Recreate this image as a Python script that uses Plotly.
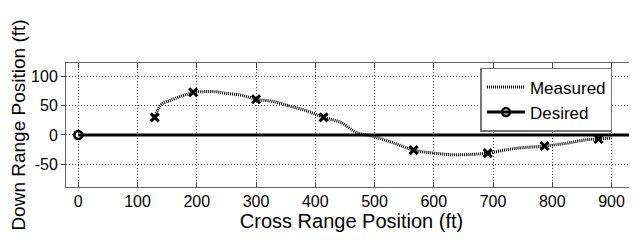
import plotly.graph_objects as go

# ---- data ----
curve_x = [129, 134, 140, 155, 170, 185, 194, 210, 230, 250, 275, 300, 330, 358, 386, 414, 442, 470, 499, 533, 566, 600, 634, 668, 691, 724, 747, 787, 825, 859, 878, 900]
curve_y = [30, 42, 52, 59, 65, 70, 73, 74, 74, 71, 68, 61, 57, 49, 41, 30, 22, 4, -3, -14, -26, -31, -34, -33, -31, -25, -22, -19, -14, -8, -7, -5]
sample_x = [129, 194, 300, 414, 566, 691, 787, 878]
sample_y = [30, 73, 61, 30, -26, -31, -19, -7]
desired_x = [0, 1000]
desired_y = [0, 0]
x_ticks = [0, 100, 200, 300, 400, 500, 600, 700, 800, 900]
y_ticks = [-50, 0, 50, 100]

FONT = "Liberation Sans, Arial, Helvetica, sans-serif"

fig = go.Figure()
fig.add_trace(go.Scatter(
    x=curve_x, y=curve_y, mode="lines", name="Measured",
    line=dict(color="black", width=3, dash="1px,1px", shape="spline"),
))
fig.add_trace(go.Scatter(
    x=sample_x, y=sample_y, mode="markers", showlegend=False,
    marker=dict(symbol="x-thin", size=8, line=dict(color="black", width=3), color="black"),
))
fig.add_trace(go.Scatter(
    x=desired_x, y=desired_y, mode="lines+markers", name="Desired",
    line=dict(color="black", width=3),
    marker=dict(symbol="circle-open", size=8, color="black", line=dict(color="black", width=2.5)),
))

# page body has an 8px margin, so the figure is sized/offset to compensate
fig.update_layout(
    width=629, height=232,
    margin=dict(l=57.7, r=0, t=55.3, b=53.3, autoexpand=False),
    paper_bgcolor="white", plot_bgcolor="white",
    font=dict(family=FONT, size=16, color="black"),
    showlegend=True,
    legend=dict(
        x=0.957, y=0.96, xanchor="right", yanchor="top",
        bgcolor="white", bordercolor="#777", borderwidth=1.5,
        font=dict(family=FONT, size=17, color="black"),
        tracegroupgap=0, itemwidth=38,
    ),
)

fig.update_xaxes(
    range=[-20.7, 943], tickvals=x_ticks, ticktext=[str(v) for v in x_ticks],
    showgrid=True, gridcolor="#444", griddash="1px,2px", gridwidth=1,
    zeroline=False, showline=True, linecolor="#666", linewidth=1, mirror="allticks",
    ticks="inside", ticklen=5, tickcolor="#444", automargin=False,
    tickfont=dict(family=FONT, size=16, color="black"),
    title=dict(text="Cross Range Position (ft)", font=dict(family=FONT, size=20, color="black"), standoff=2),
)
fig.update_yaxes(
    range=[-89, 123], tickvals=y_ticks, ticktext=[str(v) for v in y_ticks],
    showgrid=True, gridcolor="#444", griddash="1px,2px", gridwidth=1,
    zeroline=False, showline=True, linecolor="#666", linewidth=1, mirror=False,
    ticks="outside", ticklen=4, tickcolor="#444", automargin=False,
    tickfont=dict(family=FONT, size=16, color="black"),
    title=dict(text="Down Range Position (ft)", font=dict(family=FONT, size=19, color="black")),
)

fig.write_html("out.html")
